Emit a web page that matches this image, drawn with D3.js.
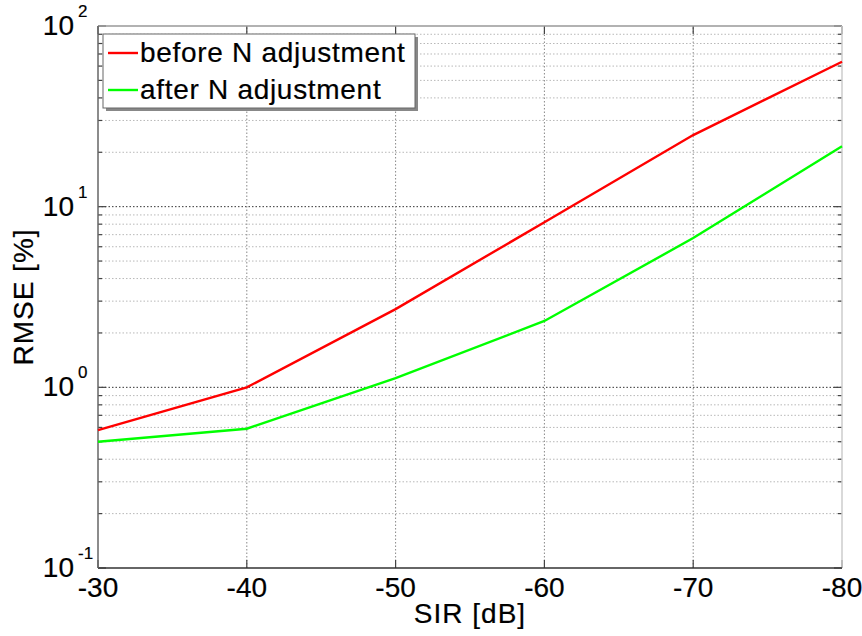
<!DOCTYPE html>
<html>
<head>
<meta charset="utf-8">
<script src="https://cdn.jsdelivr.net/npm/d3@7"></script>
<style>
  body { margin: 0; background: #fff; }
  text { font-family: "Liberation Sans", Arial, sans-serif; fill: #000; stroke: #000; stroke-width: 0.2; }
</style>
</head>
<body>
<svg id="chart" width="862" height="636"></svg>
<script>
// chart data
var sir = [-30, -40, -50, -60, -70, -80];
var before = [0.58, 1.0, 2.71, 8.2, 24.9, 63.4];
var after = [0.50, 0.59, 1.125, 2.33, 6.7, 21.6];
var seriesNames = ['before N adjustment', 'after N adjustment'];
var seriesColors = ['#ff0000', '#00ff00'];
var xTicks = [-30, -40, -50, -60, -70, -80];
var yExponents = [-1, 0, 1, 2];

var margin = {left: 98, right: 20, top: 26, bottom: 68};
var width = 862, height = 636;

var svg = d3.select('#chart');

var x = d3.scaleLinear().domain([-30, -80]).range([margin.left, width - margin.right]);
var y = d3.scaleLog().domain([0.1, 100]).range([height - margin.bottom, margin.top]);

var x0 = x.range()[0], x1 = x.range()[1];
var y0 = y.range()[0], y1 = y.range()[1];

// minor + major grid on log axis
var minorVals = [];
for (let e = -1; e < 2; e++) {
  for (let m = 2; m <= 9; m++) minorVals.push(m * Math.pow(10, e));
}
var grid = svg.append('g');
grid.selectAll('.minor').data(minorVals).enter().append('line')
  .attr('x1', x0).attr('x2', x1)
  .attr('y1', d => y(d)).attr('y2', d => y(d))
  .attr('stroke', '#b8b8b8').attr('stroke-width', 1).attr('stroke-dasharray', '1.5,2');
grid.selectAll('.major').data([1, 10]).enter().append('line')
  .attr('x1', x0).attr('x2', x1)
  .attr('y1', d => y(d)).attr('y2', d => y(d))
  .attr('stroke', '#333').attr('stroke-width', 1).attr('stroke-dasharray', '1.5,2');
grid.selectAll('.vgrid').data(xTicks.slice(1, -1)).enter().append('line')
  .attr('x1', d => x(d)).attr('x2', d => x(d))
  .attr('y1', y0).attr('y2', y1)
  .attr('stroke', '#888').attr('stroke-width', 1).attr('stroke-dasharray', '1.5,2');

// ticks inside the box
var ticks = svg.append('g').attr('stroke', '#444').attr('stroke-width', 1.2);
minorVals.forEach(function (v) {
  ticks.append('line').attr('x1', x0).attr('x2', x0 + 4).attr('y1', y(v)).attr('y2', y(v));
  ticks.append('line').attr('x1', x1).attr('x2', x1 - 4).attr('y1', y(v)).attr('y2', y(v));
});
yExponents.forEach(function (e) {
  let v = Math.pow(10, e);
  ticks.append('line').attr('x1', x0).attr('x2', x0 + 8).attr('y1', y(v)).attr('y2', y(v));
  ticks.append('line').attr('x1', x1).attr('x2', x1 - 8).attr('y1', y(v)).attr('y2', y(v));
});
xTicks.forEach(function (t) {
  ticks.append('line').attr('x1', x(t)).attr('x2', x(t)).attr('y1', y0).attr('y2', y0 - 8);
  ticks.append('line').attr('x1', x(t)).attr('x2', x(t)).attr('y1', y1).attr('y2', y1 + 8);
});

// box
svg.append('line').attr('x1', x0).attr('x2', x1).attr('y1', y1).attr('y2', y1).attr('stroke', '#999').attr('stroke-width', 1.5);
svg.append('line').attr('x1', x1).attr('x2', x1).attr('y1', y0).attr('y2', y1).attr('stroke', '#ccc').attr('stroke-width', 1.5);
svg.append('line').attr('x1', x0).attr('x2', x1).attr('y1', y0).attr('y2', y0).attr('stroke', '#333').attr('stroke-width', 1.5);
svg.append('line').attr('x1', x0).attr('x2', x0).attr('y1', y0).attr('y2', y1).attr('stroke', '#666').attr('stroke-width', 1.5);

// series
var line = d3.line().x(d => x(d[0])).y(d => y(d[1]));
[before, after].forEach(function (vals, i) {
  svg.append('path')
    .datum(sir.map((s, j) => [s, vals[j]]))
    .attr('d', line)
    .attr('fill', 'none')
    .attr('stroke', seriesColors[i])
    .attr('stroke-width', 2.4);
});

// x tick labels
svg.selectAll('.xlab').data(xTicks).enter().append('text')
  .attr('x', d => x(d)).attr('y', y0 + 29)
  .attr('text-anchor', 'middle').attr('font-size', 28)
  .text(d => d);

// y tick labels 10^e
yExponents.forEach(function (e) {
  let g = svg.append('g');
  g.append('text').attr('x', 74).attr('y', y(Math.pow(10, e)) + 9)
    .attr('text-anchor', 'end').attr('font-size', 28).text('10');
  g.append('text').attr('x', 78).attr('y', y(Math.pow(10, e)) - 9)
    .attr('font-size', 17).text(e);
});

// axis titles
svg.append('text').attr('x', (x0 + x1) / 2).attr('y', 623)
  .attr('text-anchor', 'middle').attr('font-size', 28).attr('letter-spacing', 1).text('SIR [dB]');
svg.append('text').attr('transform', 'translate(33,' + ((y0 + y1) / 2) + ') rotate(-90)')
  .attr('text-anchor', 'middle').attr('font-size', 28).attr('letter-spacing', 1).text('RMSE [%]');

// legend
var lg = svg.append('g');
lg.append('rect').attr('x', 106).attr('y', 37).attr('width', 312).attr('height', 74).attr('fill', '#888');
lg.append('rect').attr('x', 103).attr('y', 34).attr('width', 312).attr('height', 74)
  .attr('fill', '#fff').attr('stroke', '#666').attr('stroke-width', 1);
seriesNames.forEach(function (n, i) {
  let base = 62 + i * 37;
  lg.append('line').attr('x1', 108).attr('x2', 138).attr('y1', base - 9).attr('y2', base - 9)
    .attr('stroke', seriesColors[i]).attr('stroke-width', 2.4);
  lg.append('text').attr('x', 140).attr('y', base).attr('font-size', 28)
    .attr('letter-spacing', 0.7).text(n);
});
</script>
</body>
</html>
